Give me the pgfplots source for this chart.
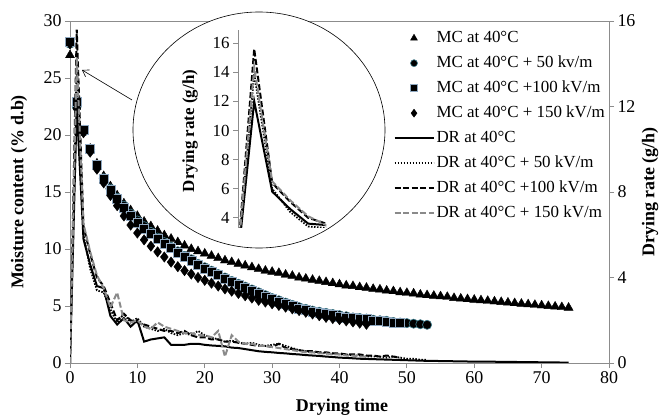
\documentclass[border=0pt]{standalone}
\usepackage{fontspec}
\setmainfont{Liberation Serif}
\usepackage{pgfplots}
\usepackage{pgfplotstable}
\pgfplotsset{compat=1.18}
\usetikzlibrary{arrows.meta}
\definecolor{axgray}{HTML}{8C8C8C}
\definecolor{drgray}{HTML}{8A8A8A}
\definecolor{circedge}{HTML}{3E7E8E}
\definecolor{sqedge}{HTML}{8FA8C0}

\pgfplotstableread{
t v
0 27.0
1 22.8
2 20.4
3 18.8
4 17.5
5 16.4
6 15.5
7 14.7
8 14.0
9 13.4
10 12.9
11 12.4
12 12.0
13 11.6
14 11.2
15 10.9
16 10.6
17 10.3
18 10.0
19 9.8
20 9.6
21 9.4
22 9.2
23 9.0
24 8.85
25 8.7
26 8.55
27 8.4
28 8.25
29 8.1
30 8.0
31 7.9
32 7.75
33 7.65
34 7.5
35 7.4
36 7.3
37 7.2
38 7.1
39 7.0
40 6.9
41 6.8
42 6.75
43 6.65
44 6.6
45 6.5
46 6.45
47 6.35
48 6.3
49 6.2
50 6.15
51 6.1
52 6.0
53 5.95
54 5.9
55 5.85
56 5.8
57 5.7
58 5.65
59 5.6
60 5.55
61 5.5
62 5.45
63 5.4
64 5.35
65 5.3
66 5.25
67 5.2
68 5.15
69 5.1
70 5.05
71 5.0
72 4.95
73 4.9
74 4.85
}\mcA

\pgfplotstableread{
t v
0 28.0
1 22.5
2 20.3
3 18.7
4 17.3
5 16.2
6 15.3
7 14.5
8 13.8
9 13.1
10 12.5
11 12.0
12 11.5
13 11.0
14 10.6
15 10.2
16 9.8
17 9.4
18 9.1
19 8.7
20 8.4
21 8.1
22 7.8
23 7.5
24 7.2
25 6.95
26 6.7
27 6.45
28 6.2
29 5.95
30 5.7
31 5.5
32 5.3
33 5.1
34 4.9
35 4.75
36 4.6
37 4.5
38 4.4
39 4.3
40 4.2
41 4.1
42 4.0
43 3.95
44 3.9
45 3.8
46 3.75
47 3.7
48 3.6
49 3.55
50 3.5
51 3.45
52 3.4
53 3.35
}\mcB

\pgfplotstableread{
t v
0 28.2
1 22.9
2 20.5
3 18.8
4 17.4
5 16.2
6 15.2
7 14.4
8 13.6
9 12.9
10 12.3
11 11.8
12 11.3
13 10.9
14 10.5
15 10.1
16 9.7
17 9.3
18 9.0
19 8.6
20 8.3
21 8.0
22 7.7
23 7.4
24 7.1
25 6.85
26 6.6
27 6.35
28 6.1
29 5.85
30 5.6
31 5.4
32 5.2
33 5.0
34 4.8
35 4.65
36 4.5
37 4.4
38 4.3
39 4.2
40 4.1
41 4.0
42 3.95
43 3.9
44 3.85
45 3.75
46 3.7
47 3.65
48 3.55
49 3.5
}\mcC

\pgfplotstableread{
t v
0 28.0
1 22.3
2 20.2
3 18.5
4 17.0
5 15.8
6 14.7
7 13.8
8 12.9
9 12.1
10 11.4
11 10.8
12 10.25
13 9.75
14 9.3
15 8.85
16 8.45
17 8.1
18 7.8
19 7.5
20 7.25
21 7.0
22 6.75
23 6.5
24 6.3
25 6.1
26 5.9
27 5.7
28 5.5
29 5.35
30 5.2
31 5.05
32 4.9
33 4.75
34 4.6
35 4.45
36 4.3
37 4.15
38 4.0
39 3.9
40 3.8
41 3.7
42 3.6
43 3.5
44 3.4
}\mcD

\pgfplotstableread{
t v
0 0
1 12.0
2 5.8
3 4.6
4 3.6
5 3.5
6 2.2
7 1.8
8 2.1
9 1.7
10 2.0
11 1.0
12 1.1
13 1.15
14 1.2
15 0.85
16 0.85
17 0.85
18 0.9
19 0.9
20 0.85
21 0.82
22 0.8
23 0.78
24 0.72
25 0.7
26 0.65
27 0.6
28 0.55
29 0.52
30 0.5
31 0.47
32 0.45
33 0.42
34 0.4
35 0.37
36 0.35
37 0.33
38 0.3
39 0.28
40 0.25
41 0.24
42 0.22
43 0.2
44 0.19
45 0.18
46 0.17
47 0.16
48 0.15
49 0.14
50 0.13
51 0.12
52 0.11
53 0.1
54 0.1
55 0.09
56 0.09
57 0.08
58 0.08
59 0.07
60 0.07
61 0.06
62 0.06
63 0.06
64 0.05
65 0.05
66 0.05
67 0.04
68 0.04
69 0.04
70 0.03
71 0.03
72 0.03
73 0.02
74 0.02
}\drA

\pgfplotstableread{
t v
0 0
1 13.9
2 6.0
3 4.4
4 3.4
5 3.3
6 2.5
7 1.9
8 2.3
9 1.9
10 2.1
11 1.7
12 1.6
13 1.5
14 1.6
15 1.4
16 1.3
17 1.4
18 1.3
19 1.5
20 1.3
21 1.2
22 1.1
23 1.0
24 1.05
25 0.95
26 0.9
27 0.95
28 0.85
29 0.8
30 0.85
31 0.9
32 0.8
33 0.7
34 0.6
35 0.55
36 0.5
37 0.5
38 0.45
39 0.45
40 0.4
41 0.4
42 0.35
43 0.35
44 0.3
45 0.3
46 0.3
47 0.25
48 0.3
49 0.25
50 0.2
51 0.2
52 0.15
53 0.15
}\drB

\pgfplotstableread{
t v
0 0
1 15.6
2 6.4
3 5.1
4 4.0
5 3.6
6 2.8
7 2.0
8 2.3
9 2.0
10 1.9
11 1.8
12 1.7
13 1.6
14 1.5
15 1.5
16 1.4
17 1.5
18 1.3
19 1.2
20 1.2
21 1.1
22 1.1
23 1.0
24 1.0
25 0.95
26 0.9
27 0.85
28 0.8
29 0.8
30 0.75
31 0.9
32 0.7
33 0.65
34 0.6
35 0.55
36 0.55
37 0.5
38 0.5
39 0.45
40 0.45
41 0.4
42 0.4
43 0.4
44 0.35
45 0.35
46 0.3
47 0.35
48 0.3
49 0.25
}\drC

\pgfplotstableread{
t v
0 0
1 14.3
2 6.5
3 5.2
4 4.1
5 3.5
6 2.6
7 3.3
8 2.0
9 1.9
10 2.0
11 1.7
12 1.6
13 1.9
14 1.7
15 1.6
16 1.5
17 1.4
18 1.4
19 1.3
20 1.3
21 1.2
22 1.5
23 0.3
24 1.3
25 1.0
26 0.9
27 0.9
28 0.8
29 0.8
30 0.75
31 0.7
32 0.65
33 0.6
34 0.55
35 0.5
36 0.5
37 0.45
38 0.45
39 0.4
40 0.4
41 0.35
42 0.35
43 0.3
44 0.3
}\drD

\begin{document}
\begin{tikzpicture}
\useasboundingbox (-70bp,-54bp) rectangle (590bp,363bp);
\pgfplotsset{
  every axis/.append style={
    /pgf/number format/assume math mode=true,
    tick label style={font=\fontsize{18}{20}\selectfont},
  },
  solidDR/.style={black, line width=2bp},
  dotDR/.style={black, line width=1.8bp, dash pattern=on 1.5bp off 1.5bp},
  dashDR/.style={black, line width=2bp, dash pattern=on 6bp off 2.5bp},
  grayDR/.style={drgray, line width=2bp, dash pattern=on 6bp off 2.5bp},
  mkA/.style={only marks, mark=triangle*, mark size=5.2bp, black, mark options={fill=black, draw=black}},
  mkB/.style={only marks, mark=*, mark size=4.6bp, black, mark options={fill=black, draw=circedge, line width=0.6bp}},
  mkC/.style={only marks, mark=square*, mark size=4.5bp, black, mark options={fill=black, draw=sqedge, line width=0.5bp}},
  mkD/.style={only marks, mark=diamond*, mark size=5.2bp, black, mark options={fill=black, draw=black}},
}
% main axis: moisture content
\begin{axis}[
  at={(0bp,0bp)}, anchor=south west,
  scale only axis, width=539bp, height=342bp,
  xmin=0, xmax=80, ymin=0, ymax=30,
  xtick={0,10,...,80}, ytick={0,5,...,30},
  xtick pos=bottom, ytick pos=left,
  tick align=outside, major tick length=5bp,
  axis line style={axgray, line width=0.8bp},
  major tick style={axgray, line width=0.8bp},
]
\addplot[mkA] table[x=t,y=v] {\mcA};
\addplot[mkB] table[x=t,y=v] {\mcB};
\addplot[mkC] table[x=t,y=v] {\mcC};
\addplot[mkD] table[x=t,y=v] {\mcD};
\end{axis}
% second axis: drying rate
\begin{axis}[
  at={(0bp,0bp)}, anchor=south west,
  scale only axis, width=539bp, height=342bp,
  xmin=0, xmax=80, ymin=0, ymax=16,
  axis x line=none, axis y line*=right,
  ytick={0,4,...,16},
  tick align=outside, major tick length=5bp,
  axis line style={axgray, line width=0.8bp},
  major tick style={axgray, line width=0.8bp},
  legend image code/.code={\draw[mark repeat=2,mark phase=2,#1] plot coordinates {(0bp,0bp) (19.5bp,0bp) (39bp,0bp)};},
  legend style={at={(1,1)}, anchor=north east, xshift=0bp, yshift=-6bp,
    draw=none, fill=none, font=\fontsize{17}{19}\selectfont,
    row sep=7bp, column sep=1bp,
    nodes={inner sep=1bp, text height=12bp, text depth=4bp}},
  legend cell align=left,
]
\addlegendimage{mkA, mark size=4bp}
\addlegendentry{MC at 40°C}
\addlegendimage{mkB, mark size=3.5bp}
\addlegendentry{MC at 40°C + 50 kv/m}
\addlegendimage{mkC, mark size=3.5bp}
\addlegendentry{MC at 40°C +100 kV/m}
\addlegendimage{mkD, mark size=4bp}
\addlegendentry{MC at 40°C + 150 kV/m}
\addplot[solidDR] table[x=t,y=v] {\drA};
\addlegendentry{DR at 40°C}
\addplot[dotDR] table[x=t,y=v] {\drB};
\addlegendentry{DR at 40°C + 50 kV/m}
\addplot[dashDR] table[x=t,y=v] {\drC};
\addlegendentry{DR at 40°C +100 kV/m}
\addplot[grayDR] table[x=t,y=v] {\drD};
\addlegendentry{DR at 40°C + 150 kV/m}
\end{axis}
% magnifier circle and arrow
\draw[black, line width=0.6bp, fill=white] (189bp,233bp) ellipse [x radius=126bp, y radius=118bp];
\draw[black, line width=0.6bp, -{Straight Barb[length=6bp,width=8bp]}] (62bp,263bp) -- (12bp,293bp);
% inset axis
\begin{axis}[
  at={(168bp,135bp)}, anchor=south west,
  scale only axis, width=88.2bp, height=198bp,
  xmin=0.1, xmax=5, ymin=3.3, ymax=16.9,
  axis x line=none, axis y line=left,
  ytick={4,6,...,16},
  tick align=outside, major tick length=5bp,
  axis line style={axgray, line width=0.8bp, -},
  major tick style={axgray, line width=0.8bp},
  tick label style={font=\fontsize{17}{19}\selectfont},
]
\addplot[solidDR] table[x=t,y=v] {\drA};
\addplot[dotDR] table[x=t,y=v] {\drB};
\addplot[dashDR] table[x=t,y=v] {\drC};
\addplot[grayDR] table[x=t,y=v] {\drD};
\end{axis}
% axis titles
\node[rotate=90, font=\fontsize{18}{20}\selectfont\bfseries] at (-51bp,171bp) {Moisture content (\% d.b)};
\node[rotate=90, font=\fontsize{18}{20}\selectfont\bfseries] at (580bp,171bp) {Drying rate (g/h)};
\node[font=\fontsize{18}{20}\selectfont\bfseries] at (272bp,-44bp) {Drying time};
\node[rotate=90, font=\fontsize{17}{19}\selectfont\bfseries] at (120bp,232bp) {Drying rate (g/h)};
\end{tikzpicture}
\end{document}
